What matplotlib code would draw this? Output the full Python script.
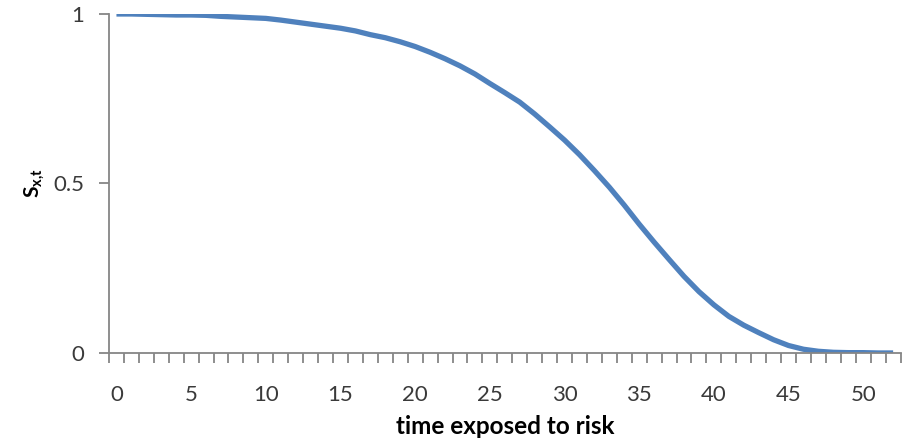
import numpy as np
import matplotlib.pyplot as plt
from matplotlib.ticker import FixedLocator

# survival curve S(x,t), one value per year of exposure
t = list(range(53))
s = [1.000, 1.000, 0.999, 0.998, 0.997, 0.997, 0.996, 0.993, 0.991, 0.989,
     0.987, 0.982, 0.976, 0.970, 0.964, 0.958, 0.950, 0.939, 0.930, 0.918,
     0.904, 0.887, 0.868, 0.847, 0.823, 0.795, 0.768, 0.740, 0.705, 0.667,
     0.628, 0.585, 0.538, 0.489, 0.436, 0.380, 0.327, 0.276, 0.226, 0.181,
     0.142, 0.108, 0.082, 0.060, 0.039, 0.022, 0.011, 0.005, 0.002, 0.001,
     0.001, 0.000, 0.000]
xlabels = [0, 5, 10, 15, 20, 25, 30, 35, 40, 45, 50]
ylabels = [0, 0.5, 1]

plt.rcParams['font.family'] = ['Lato', 'DejaVu Sans']
plt.rcParams['mathtext.fontset'] = 'custom'
plt.rcParams['mathtext.rm'] = 'Lato'
plt.rcParams['mathtext.bf'] = 'Lato:bold'

axis_grey = '#868686'
text_col = '#3a3a3a'

fig = plt.figure(figsize=(9.12, 4.44), dpi=100)
ax = fig.add_axes([0.1195, 0.205, 0.868, 0.7635])

ax.plot(t, s, color='#4F81BD', lw=3.8, solid_capstyle='butt')

ax.set_xlim(-0.5, 52.5)
ax.set_ylim(0, 1)

for side in ['top', 'right']:
    ax.spines[side].set_visible(False)
for side in ['left', 'bottom']:
    ax.spines[side].set_color(axis_grey)
    ax.spines[side].set_linewidth(1.3)

ax.set_xticks(xlabels)
ax.set_xticklabels([str(v) for v in xlabels])
ax.xaxis.set_minor_locator(FixedLocator(np.arange(-0.5, 53, 1)))
ax.tick_params(axis='x', which='major', length=0, pad=23, labelsize=16, labelcolor=text_col)
ax.tick_params(axis='x', which='minor', length=7, width=1.3, color=axis_grey, direction='out')

ax.set_yticks(ylabels)
ax.set_yticklabels(['0', '0.5', '1'])
ax.tick_params(axis='y', which='major', length=7, width=1.3, color=axis_grey,
               pad=11, labelsize=16, labelcolor=text_col)

ax.set_xlabel('time exposed to risk', fontsize=17.5, fontweight='bold', labelpad=7)
ax.set_ylabel(r'$\mathbf{S}_{\mathbf{x{,}t}}$', fontsize=15, labelpad=4)

fig.savefig('out.png', dpi=100)
